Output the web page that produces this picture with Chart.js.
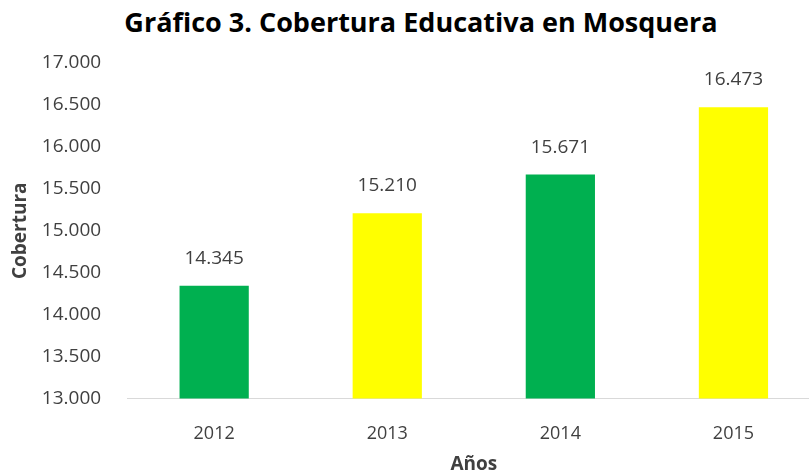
<!DOCTYPE html>
<html>
<head>
<meta charset="utf-8">
<script src="https://cdn.jsdelivr.net/npm/chart.js@4.4.0/dist/chart.umd.min.js"></script>
<style>
  html, body { margin: 0; padding: 0; background: #fff; }
  #wrap { position: relative; width: 809px; height: 471px; overflow: hidden; background: #fff; }
  #title { position: absolute; left: 0; top: 6px; width: 842px; text-align: center;
           font-family: "Open Sans", sans-serif; font-weight: 700; font-size: 27px; color: #000; line-height: 32px; }
  #cv { position: absolute; left: 0; top: 0; }
</style>
</head>
<body>
<div id="wrap">
  <div id="title">Gráfico 3. Cobertura Educativa en Mosquera</div>
  <canvas id="cv" width="820" height="471"></canvas>
</div>
<script>
const categories = ["2012", "2013", "2014", "2015"];
const coverage = [14345, 15210, 15671, 16473];
const barColors = ["#00B050", "#FFFF00", "#00B050", "#FFFF00"];
const yMin = 13000, yMax = 17000, yStep = 500;
const xTitle = "Años";
const yTitle = "Cobertura";

function fmt(v) {
  return String(Math.round(v)).replace(/\B(?=(\d{3})+(?!\d))/g, ".");
}

const valueLabels = {
  id: 'valueLabels',
  afterDatasetsDraw(chart) {
    const ctx = chart.ctx;
    const meta = chart.getDatasetMeta(0);
    ctx.save();
    ctx.font = '19px "Open Sans", sans-serif';
    ctx.fillStyle = '#404040';
    ctx.textAlign = 'center';
    ctx.textBaseline = 'alphabetic';
    meta.data.forEach((bar, i) => {
      ctx.fillText(fmt(chart.data.datasets[0].data[i]), bar.x, bar.y - 22);
    });
    ctx.restore();
  }
};

new Chart(document.getElementById('cv'), {
  type: 'bar',
  data: {
    labels: categories,
    datasets: [{
      data: coverage,
      backgroundColor: barColors,
      borderWidth: 0,
      barPercentage: 0.4,
      categoryPercentage: 1.0
    }]
  },
  options: {
    responsive: false,
    animation: false,
    devicePixelRatio: 1,
    layout: { padding: { top: 63, left: 4, right: 0, bottom: -5 } },
    plugins: { legend: { display: false }, title: { display: false }, tooltip: { enabled: false } },
    scales: {
      x: {
        grid: { display: false },
        border: { display: true, color: '#d9d9d9', width: 1 },
        ticks: { color: '#404040', font: { family: 'Open Sans', size: 18 }, padding: 16 },
        title: { display: true, text: xTitle, color: '#404040', font: { family: 'Open Sans', size: 19, weight: 'bold' }, padding: { top: -7, bottom: 0 } }
      },
      y: {
        min: yMin, max: yMax,
        grid: { display: false },
        border: { display: false },
        ticks: { stepSize: yStep, color: '#404040', font: { family: 'Open Sans', size: 19 }, padding: 18.5, callback: v => fmt(v) },
        title: { display: true, text: yTitle, color: '#404040', font: { family: 'Open Sans', size: 19, weight: 'bold' }, padding: { top: 5.5, bottom: -9 } }
      }
    }
  },
  plugins: [valueLabels]
});
</script>
</body>
</html>
